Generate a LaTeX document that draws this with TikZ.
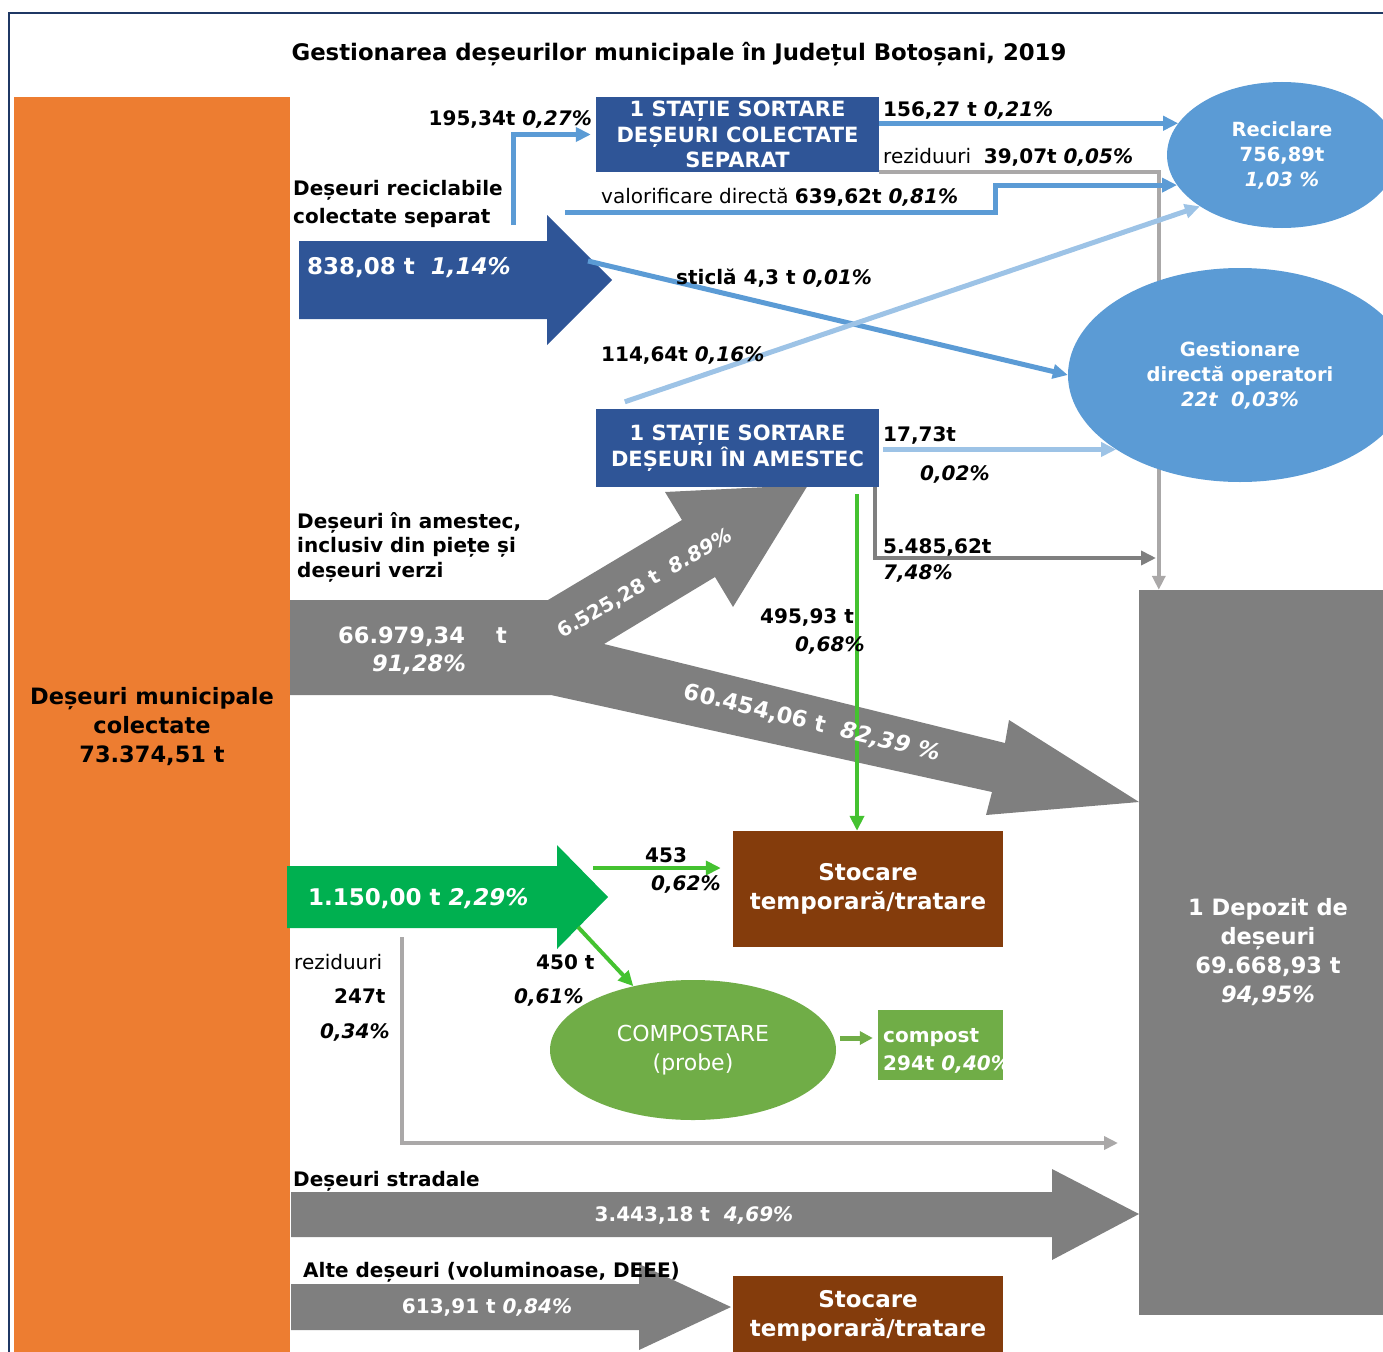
\documentclass[tikz,border=0pt]{standalone}
\usepackage{fontspec}
\setmainfont{DejaVu Sans}
\usetikzlibrary{arrows.meta, positioning, calc, shapes.geometric}
\definecolor{portocaliu}{RGB}{237,125,49}
\definecolor{albastru}{RGB}{47,85,151}
\definecolor{albastrudes}{RGB}{91,155,213}
\definecolor{albastrupal}{RGB}{157,195,230}
\definecolor{gri}{RGB}{127,127,127}
\definecolor{grideschis}{RGB}{170,168,168}
\definecolor{verde}{RGB}{0,176,80}
\definecolor{verdeviu}{RGB}{68,194,48}
\definecolor{verdecomp}{RGB}{112,173,71}
\definecolor{maro}{RGB}{132,60,12}
\definecolor{chenar}{RGB}{31,56,100}

\begin{document}
\begin{tikzpicture}[x=1pt, y=-1pt,
        eticheta/.style={
            inner sep=0pt,
            align=left,
            font=\bfseries\fontsize{20}{28}\selectfont
        },
        alba/.style={eticheta, text=white},
        statie/.style={
            rectangle,
            fill=albastru,
            text=white,
            inner sep=0pt,
            minimum width=283pt,
            align=center,
            font=\bfseries\fontsize{21}{25.5}\selectfont
        },
        stocare/.style={
            rectangle,
            fill=maro,
            text=white,
            inner sep=0pt,
            minimum width=270pt,
            align=center,
            font=\bfseries\fontsize{23}{29}\selectfont
        },
        cerc/.style={
            ellipse,
            fill=albastrudes,
            text=white,
            inner sep=0pt,
            align=center,
            font=\bfseries\fontsize{19.5}{25}\selectfont
        },
        flux/.style={line width=5pt, draw=albastrudes, -{Triangle[length=15pt, width=14pt]}},
        fluxpal/.style={flux, draw=albastrupal},
        rezid/.style={line width=4pt, draw=grideschis, -{Triangle[length=14pt, width=13pt]}},
        fluxgri/.style={line width=4pt, draw=gri, -{Triangle[length=15pt, width=14pt]}},
        fluxverde/.style={line width=4pt, draw=verdeviu, -{Triangle[length=15pt, width=14pt]}}
    ]
        \useasboundingbox (0,0) rectangle (1383,1351);
        \clip (0,0) rectangle (1383,1351);
        \draw[chenar, line width=2.5pt] (9,1360) -- (9,13) -- (1390,13);

        \node[inner sep=0pt, font=\bfseries\fontsize{22.8}{27}\selectfont] (titlu) at (679,54)
            {Gestionarea deșeurilor municipale în Județul Botoșani, 2019};

        % sursa si depozitul
        \node[fill=portocaliu, minimum width=276pt, minimum height=1260pt, inner sep=0pt,
              align=center, font=\bfseries\fontsize{22.5}{29}\selectfont] (total) at (152,727)
            {Deșeuri municipale\\colectate\\73.374,51 t};
        \node[fill=gri, text=white, minimum width=258pt, minimum height=725pt, inner sep=0pt,
              align=center, font=\bfseries\fontsize{22.5}{29}\selectfont] (depozit) at (1268,952.5)
            {1 Depozit de\\deșeuri\\69.668,93 t\\\textit{94,95\%}};

        % sageti groase
        \fill[albastru] (299,241) -- (547,241) -- (547,215) -- (612,280) -- (547,345) -- (547,319) -- (299,319) -- cycle;
        \fill[gri] (290,600) -- (548,600) -- (682,520) -- (665,492) -- (808,485) -- (733,607) -- (715,577)
            -- (604,644) -- (1005,743) -- (1009,720) -- (1139,802) -- (986,815) -- (992,792) -- (551,695) -- (290,695) -- cycle;
        \fill[verde] (287,866) -- (557,866) -- (557,845) -- (608,897) -- (557,949) -- (557,928) -- (287,928) -- cycle;
        \fill[gri] (291,1192) -- (1052,1192) -- (1052,1169) -- (1139,1214) -- (1052,1260) -- (1052,1237) -- (291,1237) -- cycle;
        \fill[gri] (291,1284) -- (639,1284) -- (639,1264) -- (731,1307) -- (639,1350) -- (639,1330) -- (291,1330) -- cycle;

        \coordinate (recSus) at (513,225);
        \coordinate (valStart) at (565,212);
        \coordinate (sticlaStart) at (588,261);
        \coordinate (verdeStart) at (857,494);
        \coordinate (compA) at (593,868);
        \coordinate (compB) at (578,927);
        \coordinate (rezStart) at (402,937);
        \coordinate (rezCapat) at (1118,1143);
        \coordinate (intrareGri) at (1156,558);

        % statii, stocare
        \node[statie, minimum height=75pt] (statie1) at (737.5,134.5)
            {1 STAȚIE SORTARE\\DEȘEURI COLECTATE\\SEPARAT};
        \node[statie, minimum height=78pt] (statie2) at (737.5,448)
            {1 STAȚIE SORTARE\\DEȘEURI ÎN AMESTEC};
        \node[stocare, minimum height=116pt] (stocare1) at (868,889) {Stocare\\temporară/tratare};
        \node[stocare, minimum height=80pt] (stocare2) at (868,1316) {Stocare\\temporară/tratare};

        % linii sub elipse
        \draw[rezid] (statie1.south east) -| ([xshift=20pt]depozit.north west);
        \draw[fluxgri] ([xshift=-4pt]statie2.south east) |- (intrareGri);

        \node[cerc, minimum width=230pt, minimum height=146pt] (reciclare) at (1282,155)
            {Reciclare\\756,89t\\\textit{1,03 \%}};
        \node[cerc, minimum width=344pt, minimum height=214pt] (gestionare) at (1240,375)
            {Gestionare\\directă operatori\\\textit{22t\ \ 0,03\%}};
        \node[ellipse, fill=verdecomp, text=white, inner sep=0pt, minimum width=286pt, minimum height=140pt,
              align=center, font=\fontsize{22}{29}\selectfont] (compostare) at (693,1050)
            {COMPOSTARE\\(probe)};
        \node[fill=verdecomp, minimum width=125pt, minimum height=70pt, inner sep=0pt] (compost) at (940.5,1045) {};
        \begin{scope}
            \clip (compost.north west) rectangle (compost.south east);
            \node[alba, anchor=north west] (tcompost) at (883,1028) {compost\\294t \textit{0,40\%}};
        \end{scope}

        % fluxuri subtiri
        \draw[flux, shorten >=5pt] (recSus) |- (statie1.west);
        \draw[flux] (statie1.east |- reciclare.163) -- (reciclare.163);
        \draw[flux] (valStart) -- ++(430,0) |- (reciclare.196);
        \draw[flux] (sticlaStart) -- (gestionare.west);
        \draw[fluxpal] ([xshift=29pt, yshift=7pt]statie2.north west) -- (reciclare.212);
        \draw[fluxpal, shorten <=4pt] (statie2.east |- gestionare.211) -- (gestionare.211);
        \draw[fluxverde] (verdeStart) -- (verdeStart |- stocare1.north);
        \draw[fluxverde, shorten >=12pt] (compA) -- (compA -| stocare1.west);
        \draw[fluxverde] (compB) -- (compostare);
        \coordinate (intrareCompost) at ([yshift=7pt]compost.west);
        \draw[line width=5pt, draw=verdecomp, -{Triangle[length=13pt, width=13pt]}, shorten <=4pt, shorten >=5pt]
            (intrareCompost -| compostare.east) -- (intrareCompost);
        \draw[rezid] (rezStart) |- (rezCapat);

        % etichete
        \node[eticheta, anchor=north west] (lrecic) at (293,180) {Deșeuri reciclabile\\colectate separat};
        \node[eticheta, anchor=base east] (l19534) at (592,126) {195,34t \textit{0,27\%}};
        \node[eticheta, anchor=base west] (l15627) at (883,117) {156,27 t \textit{0,21\%}};
        \node[eticheta, anchor=base west] (lrez1) at (883,164) {\mdseries reziduuri\ \ \bfseries 39,07t \textit{0,05\%}};
        \node[eticheta, anchor=base west] (lval) at (601,204) {\mdseries valorificare directă \bfseries 639,62t \textit{0,81\%}};
        \node[alba, anchor=base west, font=\bfseries\fontsize{23}{28}\selectfont] (l838) at (307,274) {838,08 t\ \ \textit{1,14\%}};
        \node[eticheta, anchor=base west] (lsticla) at (676,284) {sticlă 4,3 t \textit{0,01\%}};
        \node[eticheta, anchor=base west] (l11464) at (601,361) {114,64t \textit{0,16\%}};
        \node[eticheta, anchor=base west] (l1773) at (883,441) {17,73t};
        \node[eticheta, anchor=base west] (l002) at (920,480) {\textit{0,02\%}};
        \node[eticheta, anchor=base west] (l5485) at (883,553) {5.485,62t};
        \node[eticheta, anchor=base west] (l748) at (883,579) {\textit{7,48\%}};
        \node[eticheta, anchor=north west, font=\bfseries\fontsize{20}{24.5}\selectfont] (lamestec) at (297,512)
            {Deșeuri în amestec,\\inclusiv din piețe și\\deșeuri verzi};
        \node[alba, anchor=base west, font=\bfseries\fontsize{22.5}{28}\selectfont] (l66979) at (338,643) {66.979,34\ \ \ \ t};
        \node[alba, anchor=base west, font=\bfseries\fontsize{22.5}{28}\selectfont] (l9128) at (372,671) {\textit{91,28\%}};
        \node[alba, rotate=30] (l6525) at (645,584) {6.525,28 t\ \ \textit{8.89\%}};
        \node[eticheta, anchor=base west] (l495) at (760,623) {495,93 t};
        \node[eticheta, anchor=base west] (l068) at (795,651) {\textit{0,68\%}};
        \node[alba, rotate=-13.7, font=\bfseries\fontsize{22.5}{28}\selectfont] (l60454) at (812,723) {60.454,06 t\ \ \textit{82,39 \%}};
        \node[alba, anchor=base west, font=\bfseries\fontsize{23}{28}\selectfont] (l1150) at (308,905) {1.150,00 t \textit{2,29\%}};
        \node[eticheta, anchor=base west] (l453) at (645,862) {453};
        \node[eticheta, anchor=base west] (l062) at (651,890) {\textit{0,62\%}};
        \node[eticheta, anchor=base west] (lrez2) at (294,969) {\mdseries reziduuri};
        \node[eticheta, anchor=base west] (l247) at (334,1003) {247t};
        \node[eticheta, anchor=base west] (l034) at (320,1038) {\textit{0,34\%}};
        \node[eticheta, anchor=base west] (l450) at (536,969) {450 t};
        \node[eticheta, anchor=base west] (l061) at (514,1003) {\textit{0,61\%}};
        \node[eticheta, anchor=base west] (lstradale) at (293,1186) {Deșeuri stradale};
        \node[alba] (l3443) at (694,1215) {3.443,18 t\ \ \textit{4,69\%}};
        \node[eticheta, anchor=base west] (lalte) at (303,1277) {Alte deșeuri (voluminoase, DEEE)};
        \node[alba] (l613) at (487,1307) {613,91 t \textit{0,84\%}};
    \end{tikzpicture}
\end{document}
